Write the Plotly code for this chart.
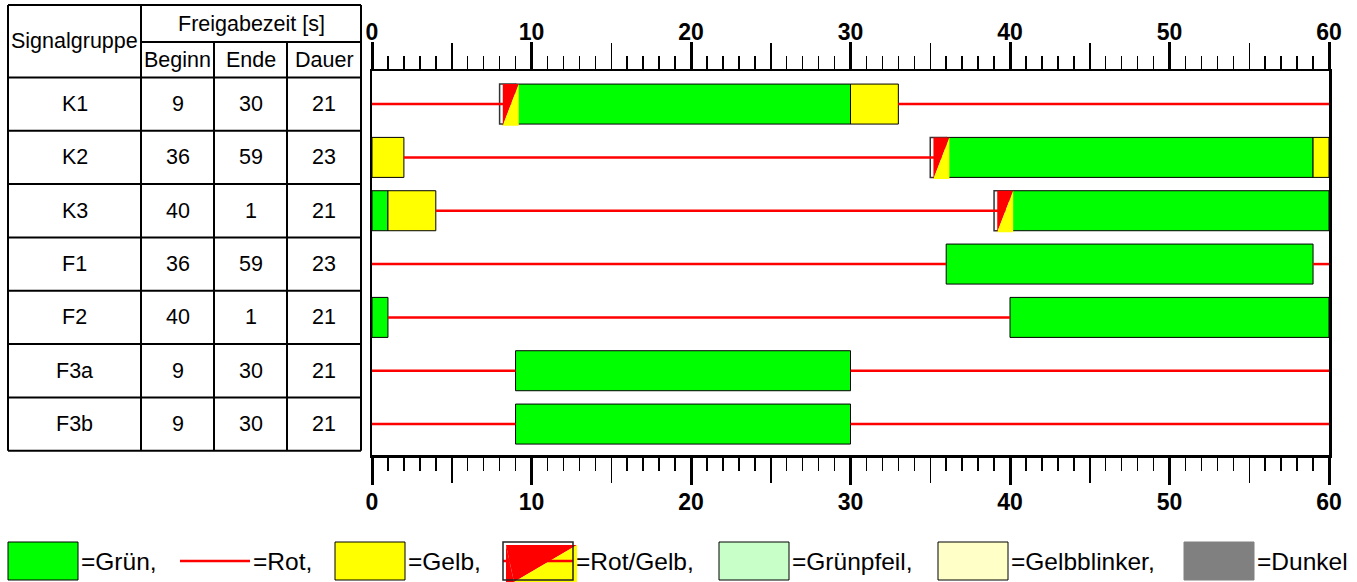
import plotly.graph_objects as go

# ---------------- data ----------------
CYCLE = 60
groups = ["K1", "K2", "K3", "F1", "F2", "F3a", "F3b"]
beginn = [9, 36, 40, 36, 40, 9, 9]
ende = [30, 59, 1, 59, 1, 30, 30]
dauer = [21, 23, 21, 23, 21, 21, 21]
gelb_dauer = [3, 3, 3, 0, 0, 0, 0]
rotgelb_dauer = [1, 1, 1, 0, 0, 0, 0]

major_ticks = [0, 10, 20, 30, 40, 50, 60]
mid_ticks = [5, 15, 25, 35, 45, 55]

header_main = "Signalgruppe"
header_group = "Freigabezeit [s]"
header_sub = ["Beginn", "Ende", "Dauer"]

legend_labels = ["=Grün,", "=Rot,", "=Gelb,", "=Rot/Gelb,", "=Grünpfeil,", "=Gelbblinker,", "=Dunkel"]

# ---------------- style / layout ----------------
GREEN = "#00ff00"
RED = "#ff0000"
YELLOW = "#ffff00"
GRUENPFEIL = "#c8ffc8"
GELBBLINKER = "#ffffc8"
DUNKEL = "#808080"
FONT = "Liberation Sans, Arial, Helvetica, sans-serif"

W, H = 1357, 582
PL, PR, PT, PB = 372, 1329, 71, 455
Y_TOP, Y_BOT = -0.62, 6.58
ROW_PX = (PB - PT) / (Y_BOT - Y_TOP)
BAR_W = 0.75
RG_SHIFT = 0.2


def row_px(r):
    return PT + (r - Y_TOP) * ROW_PX


def pieces(a, b):
    a = a % CYCLE
    length = (b - a) % CYCLE
    if length == 0:
        return []
    if a + length <= CYCLE:
        return [(a, a + length)]
    return [(a, CYCLE), (0, a + length - CYCLE)]


green_iv, yellow_iv, rg_iv, red_iv = [], [], [], []
for i in range(len(groups)):
    for p in pieces(beginn[i], ende[i]):
        green_iv.append((i, p))
    if gelb_dauer[i]:
        for p in pieces(ende[i], ende[i] + gelb_dauer[i]):
            yellow_iv.append((i, p))
    if rotgelb_dauer[i]:
        for p in pieces(beginn[i] - rotgelb_dauer[i], beginn[i]):
            rg_iv.append((i, p))
    for p in pieces(ende[i] + gelb_dauer[i], beginn[i]):
        red_iv.append((i, p))

fig = go.Figure()

# red lines
rx, ry = [], []
for i, (a, b) in red_iv:
    rx += [a, b, None]
    ry += [i, i, None]
fig.add_trace(go.Scatter(x=rx, y=ry, mode="lines", line=dict(color=RED, width=2.5),
                         hoverinfo="skip", showlegend=False, xaxis="x", yaxis="y"))


def add_bars(ivs, color, line_color="black", line_width=1):
    fig.add_trace(go.Bar(
        orientation="h",
        y=[i for i, _ in ivs],
        base=[p[0] for _, p in ivs],
        x=[p[1] - p[0] for _, p in ivs],
        width=BAR_W,
        marker=dict(color=color, line=dict(color=line_color, width=line_width)),
        hoverinfo="skip", showlegend=False, xaxis="x", yaxis="y"))


add_bars(green_iv, GREEN)
add_bars(yellow_iv, YELLOW)

# red/yellow triangles
h = BAR_W / 2
tx_r, ty_r, tx_y, ty_y = [], [], [], []
for i, (a, b) in rg_iv:
    a2, b2 = a + RG_SHIFT, b + RG_SHIFT
    top, bot = i - h, i + h + 0.03
    tx_r += [a2, b2, a2, a2, None]
    ty_r += [top, top, bot, top, None]
    tx_y += [b2, b2, a2, b2, None]
    ty_y += [top, bot, bot, top, None]
fig.add_trace(go.Scatter(x=tx_r, y=ty_r, mode="lines", fill="toself", fillcolor=RED,
                         line=dict(width=0, color=RED), hoverinfo="skip", showlegend=False))
fig.add_trace(go.Scatter(x=tx_y, y=ty_y, mode="lines", fill="toself", fillcolor=YELLOW,
                         line=dict(width=0, color=YELLOW), hoverinfo="skip", showlegend=False))
add_bars(rg_iv, "rgba(0,0,0,0)", "#333333", 1.5)

# dummy traces for helper axes
for xa, ya in [("x2", "y2"), ("x3", "y"), ("x4", "y"), ("x5", "y")]:
    fig.add_trace(go.Scatter(x=[None], y=[None], xaxis=xa, yaxis=ya, hoverinfo="skip", showlegend=False))

# ---------------- table ----------------
shapes = []
annotations = []
COLS = [8, 141, 214, 287, 361]
HDR_T, HDR_M = 5, 42
HDR_B = row_px(-0.5)
TBL_B = row_px(len(groups) - 0.5)
LW = 2


def line(x0, y0, x1, y1, w=LW, color="black"):
    shapes.append(dict(type="line", xref="x2", yref="y2", x0=x0, y0=y0, x1=x1, y1=y1,
                       line=dict(color=color, width=w)))


line(COLS[0], HDR_T, COLS[-1], HDR_T)
line(COLS[1], HDR_M, COLS[-1], HDR_M)
for r in range(len(groups) + 1):
    yy = row_px(r - 0.5)
    line(COLS[0], yy, COLS[-1], yy)
for k, cx in enumerate(COLS):
    y0 = HDR_M if k in (2, 3) else HDR_T
    line(cx, y0, cx, TBL_B)

TFS = 21.5


def txt(x, y, s, size=TFS, anchor="center"):
    annotations.append(dict(xref="x2", yref="y2", x=x, y=y, text=s, showarrow=False,
                            xanchor=anchor, yanchor="middle",
                            font=dict(family=FONT, size=size, color="black")))


txt((COLS[0] + COLS[1]) / 2, (HDR_T + HDR_B) / 2, header_main)
txt((COLS[1] + COLS[-1]) / 2, (HDR_T + HDR_M) / 2, header_group)
for k, s in enumerate(header_sub):
    txt((COLS[k + 1] + COLS[k + 2]) / 2, (HDR_M + HDR_B) / 2, s)
for i, g in enumerate(groups):
    yy = row_px(i)
    vals = [g, str(beginn[i]), str(ende[i]), str(dauer[i])]
    for k, v in enumerate(vals):
        txt((COLS[k] + COLS[k + 1]) / 2, yy, v)

# ---------------- legend ----------------
LEG_X = [8, 180, 335, 503, 719, 938, 1184]
LEG_W = 70
LEG_T, LEG_B, LEG_M = 542, 580, 561
fills = [GREEN, None, YELLOW, "RG", GRUENPFEIL, GELBBLINKER, DUNKEL]
for k, (lx, f) in enumerate(zip(LEG_X, fills)):
    if f is None:
        line(lx, LEG_M, lx + LEG_W, LEG_M, w=2.5, color=RED)
    elif f == "RG":
        a2, b2 = lx + 3, lx + LEG_W + 4
        t2 = LEG_T + 3
        shapes.append(dict(type="path", xref="x2", yref="y2",
                           path=f"M {a2},{t2} L {b2},{t2} L {a2 + 8},{LEG_B + 2} Z",
                           fillcolor=RED, line=dict(width=0)))
        shapes.append(dict(type="path", xref="x2", yref="y2",
                           path=f"M {b2},{t2} L {b2},{LEG_B + 2} L {a2 + 8},{LEG_B + 2} Z",
                           fillcolor=YELLOW, line=dict(width=0)))
        shapes.append(dict(type="path", xref="x2", yref="y2",
                           path=f"M {a2},{t2} L {a2 + 8},{LEG_B + 2} L {a2},{LEG_B + 2} Z",
                           fillcolor=RED, line=dict(width=0)))
        line(lx, LEG_M, lx + LEG_W, LEG_M, w=2.5, color=RED)
        shapes.append(dict(type="rect", xref="x2", yref="y2", x0=lx, x1=lx + LEG_W,
                           y0=LEG_T, y1=LEG_B, fillcolor="rgba(0,0,0,0)",
                           line=dict(color="#222222", width=1.5)))
    else:
        shapes.append(dict(type="rect", xref="x2", yref="y2", x0=lx, x1=lx + LEG_W,
                           y0=LEG_T, y1=LEG_B, fillcolor=f,
                           line=dict(color="black" if f != DUNKEL else DUNKEL, width=1)))
    txt(lx + LEG_W + 1, LEG_M, legend_labels[k], size=24.5, anchor="left")

# ---------------- axes ----------------
tickfont = dict(family=FONT, size=23, color="black", weight="bold")
common_major = dict(range=[0, CYCLE], anchor="y", showline=True, linecolor="black", linewidth=2.5,
                    ticks="outside", tickmode="array", tickvals=major_ticks,
                    ticktext=[str(v) for v in major_ticks], ticklen=27, tickwidth=3,
                    tickcolor="black", tickfont=tickfont, showgrid=False, zeroline=False,
                    minor=dict(dtick=1, tick0=0, ticks="outside", ticklen=13, tickwidth=1.5,
                               tickcolor="black", showgrid=False),
                    domain=[PL / W, PR / W], fixedrange=True, automargin=False)
common_mid = dict(range=[0, CYCLE], anchor="y", showline=False, ticks="outside", tickmode="array",
                  tickvals=mid_ticks, ticklen=27, tickwidth=1.5, tickcolor="black",
                  showticklabels=False, showgrid=False, zeroline=False, overlaying="x",
                  domain=[PL / W, PR / W], fixedrange=True, automargin=False)

fig.update_layout(
    width=W, height=H,
    margin=dict(l=0, r=0, t=0, b=0, pad=0, autoexpand=False),
    paper_bgcolor="white", plot_bgcolor="rgba(0,0,0,0)",
    barmode="overlay",
    showlegend=False,
    xaxis=dict(side="bottom", ticklabelstandoff=-2, **common_major),
    xaxis3=dict(side="top", overlaying="x", ticklabelstandoff=-8, **common_major),
    xaxis4=dict(side="bottom", **common_mid),
    xaxis5=dict(side="top", **common_mid),
    yaxis=dict(domain=[1 - PB / H, 1 - PT / H], range=[Y_BOT, Y_TOP], showline=True, mirror=True,
               linecolor="black", linewidth=2.5, showticklabels=False, ticks="",
               showgrid=False, zeroline=False, fixedrange=True, automargin=False),
    xaxis2=dict(domain=[0, 1], range=[0, W], visible=False, anchor="y2", fixedrange=True),
    yaxis2=dict(domain=[0, 1], range=[H, 0], visible=False, anchor="x2", fixedrange=True),
    shapes=shapes,
    annotations=annotations,
)

post = ("document.body.style.margin='0';document.body.style.padding='0';"
        "document.body.style.overflow='hidden';"
        "document.documentElement.style.overflow='hidden';")
fig.write_html("out.html", post_script=post, config={"displayModeBar": False, "staticPlot": True})
